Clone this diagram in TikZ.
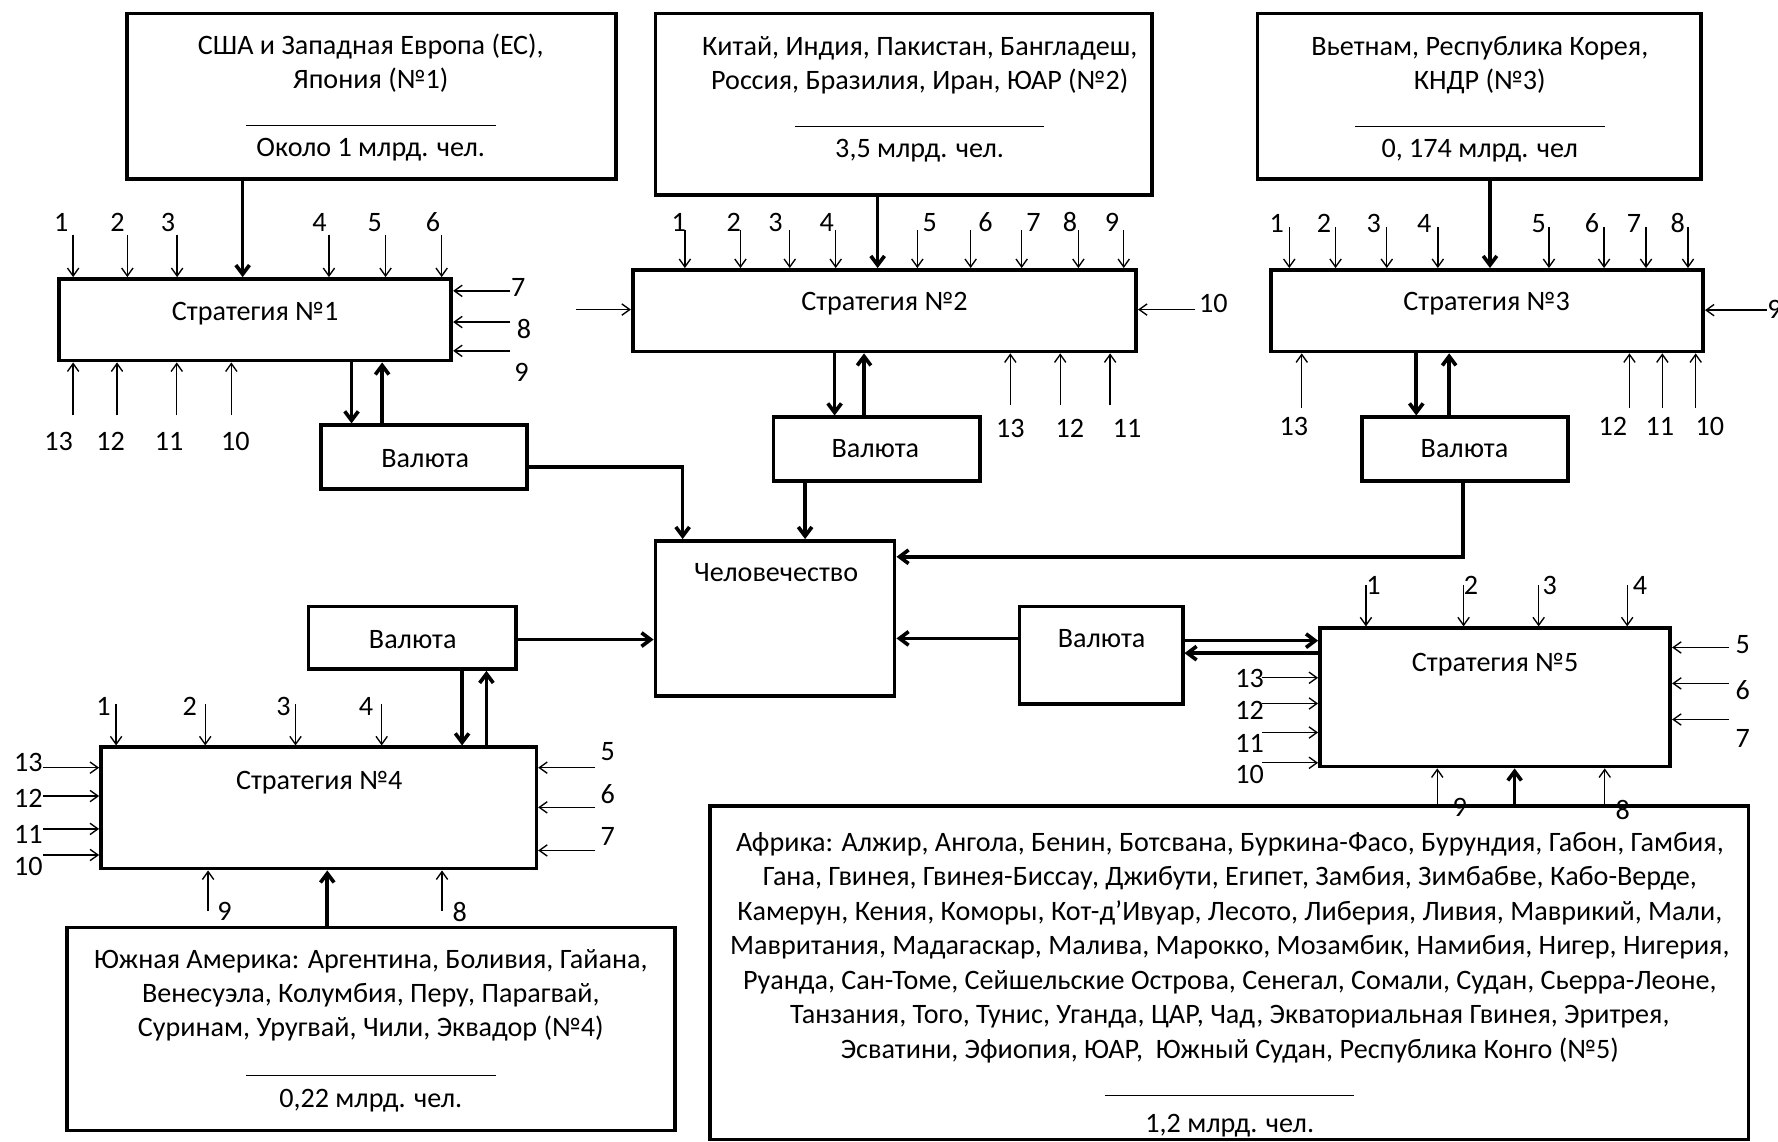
\documentclass[tikz,border=0pt]{standalone}
\usepackage{fontspec}
\setmainfont{Carlito}
\usetikzlibrary{positioning,arrows.meta,fit}

\begin{document}
\begin{tikzpicture}[x=0.5pt,y=-0.5pt,
    box/.style={draw,line width=1.6pt,inner sep=0pt},
    txt/.style={font=\fontsize{12.4}{15}\selectfont,align=center,inner sep=0pt,anchor=base},
    num/.style={font=\fontsize{12.4}{15}\selectfont,inner sep=0pt},
    thk/.style={line width=1.6pt,-{Straight Barb[length=4pt,width=6pt]}},
    inp/.style={line width=0.6pt,-{Straight Barb[length=3.5pt,width=5pt]}}
]
\useasboundingbox (0,0) rectangle (1568,1007);

% regions (text anchored at the baseline of its last line)
\node[box,fit={(112,12) (543,158)}]   (b1) {};
\node[box,fit={(578,12) (1016,172)}]  (b2) {};
\node[box,fit={(1109,12) (1500,158)}] (b3) {};
\node[box,fit={(59,818) (595,997)}]   (b4) {};
\node[box,fit={(626,711) (1542,1005)}] (b5) {};

\node[txt] (t1) at (327,138) {США и Западная Европа (ЕС),\\Япония (№1)\\[1.5pt]\rule{110pt}{0.5pt}\\[-1.5pt]Около 1 млрд. чел.};
\node[txt] (t2) at (811,139) {Китай, Индия, Пакистан, Бангладеш,\\Россия, Бразилия, Иран, ЮАР (№2)\\[1.5pt]\rule{110pt}{0.5pt}\\[-1.5pt]3,5 млрд. чел.};
\node[txt] (t3) at (1305,139) {Вьетнам, Республика Корея,\\КНДР (№3)\\[1.5pt]\rule{110pt}{0.5pt}\\[-1.5pt]0, 174 млрд. чел};
\node[txt] (t4) at (327,977) {Южная Америка: Аргентина, Боливия, Гайана,\\Венесуэла, Колумбия, Перу, Парагвай,\\Суринам, Уругвай, Чили, Эквадор (№4)\\[2.25pt]\rule{110pt}{0.5pt}\\[-1pt]0,22 млрд. чел.};
\node[txt,font=\fontsize{12.4}{15.25}\selectfont] (t5) at (1084.5,998.7) {Африка: Алжир, Ангола, Бенин, Ботсвана, Буркина-Фасо, Бурундия, Габон, Гамбия,\\
  Гана, Гвинея, Гвинея-Биссау, Джибути, Египет, Замбия, Зимбабве, Кабо-Верде,\\
  Камерун, Кения, Коморы, Кот-д’Ивуар, Лесото, Либерия, Ливия, Маврикий, Мали,\\
  Мавритания, Мадагаскар, Малива, Марокко, Мозамбик, Намибия, Нигер, Нигерия,\\
  Руанда, Сан-Томе, Сейшельские Острова, Сенегал, Сомали, Судан, Сьерра-Леоне,\\
  Танзания, Того, Тунис, Уганда, ЦАР, Чад, Экваториальная Гвинея, Эритрея,\\
  Эсватини, Эфиопия, ЮАР,\ \ Южный Судан, Республика Конго (№5)\\[1.35pt]\rule{110pt}{0.5pt}\\[0.75pt]1,2 млрд. чел.};

% strategies
\node[box,fit={(52,246) (398,318)}]    (s1) {};
\node[box,fit={(558,238) (1002,310)}]  (s2) {};
\node[box,fit={(1121,238) (1502,310)}] (s3) {};
\node[box,fit={(89,659) (473,766)}]    (s4) {};
\node[box,fit={(1164,554) (1473,676)}] (s5) {};
\node[txt] (s1t) at (225,283)    {Стратегия №1};
\node[txt] (s2t) at (780,274)    {Стратегия №2};
\node[txt] (s3t) at (1311,274)   {Стратегия №3};
\node[txt] (s4t) at (281.5,696)  {Стратегия №4};
\node[txt] (s5t) at (1318.5,592) {Стратегия №5};

% currency and humanity
\node[box,fit={(283,375) (465,431)}]   (v1) {};
\node[box,fit={(682,368) (864,424)}]   (v2) {};
\node[box,fit={(1201,368) (1383,424)}] (v3) {};
\node[box,fit={(272,535) (455,590)}]   (v4) {};
\node[box,fit={(899,535) (1043,621)}]  (v5) {};
\node[box,fit={(578,477) (789,614)}]   (hum) {};
\node[txt] (v1t) at (375,412)    {Валюта};
\node[txt] (v2t) at (772,403.5)  {Валюта};
\node[txt] (v3t) at (1291.5,403.5) {Валюта};
\node[txt] (v4t) at (364,572)    {Валюта};
\node[txt] (v5t) at (971.5,571)  {Валюта};
\node[txt] (humt) at (684.5,513) {Человечество};

% main flows
\draw[thk] (b1.south -| 214,0) -- (s1.north -| 214,0);
\draw[thk] (b2.south -| 774,0) -- (s2.north -| 774,0);
\draw[thk] (b3.south -| 1314,0) -- (s3.north -| 1314,0);
\draw[thk] (b4.north -| 288.6,0) -- (s4.south -| 288.6,0);
\draw[thk] (b5.north -| 1335.7,0) -- (s5.south -| 1335.7,0);

\draw[thk] (s1.south -| 310,0) -- (v1.north -| 310,0);
\draw[thk] (v1.north -| 337,0) -- (s1.south -| 337,0);
\draw[thk] (s2.south -| 736,0) -- (v2.north -| 736,0);
\draw[thk] (v2.north -| 762,0) -- (s2.south -| 762,0);
\draw[thk] (s3.south -| 1249,0) -- (v3.north -| 1249,0);
\draw[thk] (v3.north -| 1278,0) -- (s3.south -| 1278,0);
\draw[thk] (v4.south -| 407.5,0) -- (s4.north -| 407.5,0);
\draw[thk] (s4.north -| 429,0) -- (v4.south -| 429,0);
\draw[thk] (v5.east |- 0,565) -- (s5.west |- 0,565);
\draw[thk] (s5.west |- 0,576) -- (v5.east |- 0,576);

\draw[thk] (v1.east |- 0,412) -| (hum.north -| 602,0);
\draw[thk] (v2.south -| 710,0) -- (hum.north -| 710,0);
\draw[thk] (v3.south -| 1290,0) |- (hum.east |- 0,491);
\draw[thk] (v4.east |- 0,564) -- (hum.west |- 0,564);
\draw[thk] (v5.west |- 0,563) -- (hum.east |- 0,563);

% factors of strategy 1
\foreach \x/\n/\lx in {64.5/1/54,112.3/2/103.6,156.2/3/148.2,290.1/4/281.7,340/5/330.5,389.5/6/381.8}{
  \node[num] (s1a\n) at (\lx,196) {\n};
  \draw[inp] (\x,207) -- (s1.north -| \x,0);
}
\foreach \y/\n/\lx/\ly in {256.5/7/457/253.5,284/8/462/289.7,309.4/9/460/328.8}{
  \node[num] (s1a\n) at (\lx,\ly) {\n};
  \draw[inp] (450,\y) -- (s1.east |- 0,\y);
}
\foreach \x/\n/\lx in {64.5/13/51.6,103.2/12/97.6,155.9/11/149.2,204/10/207.5}{
  \node[num] (s1a\n) at (\lx,389) {\n};
  \draw[inp] (\x,366) -- (s1.south -| \x,0);
}

% factors of strategy 2
\foreach \x/\n/\lx in {604/1/598.5,653/2/647,696.5/3/684,737/4/729,809/5/820,856/6/869,901/7/911.5,951/8/943.5,991/9/980.6}{
  \node[num] (s2a\n) at (\lx,196) {\n};
  \draw[inp] (\x,203) -- (s2.north -| \x,0);
}
\draw[inp] (508,273) -- (s2.west |- 0,273);
\node[num] (s2a10) at (1070,268) {10};
\draw[inp] (1054,273) -- (s2.east |- 0,273);
\foreach \x/\n/\lx in {891/13/891,935/12/943.5,979/11/994}{
  \node[num] (s2a\n) at (\lx,378) {\n};
  \draw[inp] (\x,357) -- (s2.south -| \x,0);
}

% factors of strategy 3
\foreach \x/\n/\lx in {1137/1/1126,1177.8/2/1167.7,1223/3/1211.5,1268/4/1256,1366/5/1357,1414.6/6/1404,1451.6/7/1441,1488.6/8/1479.6}{
  \node[num] (s3a\n) at (\lx,197) {\n};
  \draw[inp] (\x,200) -- (s3.north -| \x,0);
}
\node[num] (s3a9) at (1565,273) {9};
\draw[inp] (1558,273.5) -- (s3.east |- 0,273.5);
\foreach \x/\n/\lx in {1148/13/1141,1437/12/1422.4,1466/11/1463.7,1495.4/10/1508}{
  \node[num] (s3a\n) at (\lx,376) {\n};
  \draw[inp] (\x,360) -- (s3.south -| \x,0);
}

% factors of strategy 4
\foreach \x/\n/\lx in {102.4/1/91.3,181/2/167.3,260.6/3/250,336.6/4/322.8}{
  \node[num] (s4a\n) at (\lx,623) {\n};
  \draw[inp] (\x,621) -- (s4.north -| \x,0);
}
\foreach \y/\n/\ly in {677/13/672,702/12/704,731/11/736,754/10/764}{
  \node[num] (s4a\n) at (25,\ly) {\n};
  \draw[inp] (38,\y) -- (s4.west |- 0,\y);
}
\foreach \y/\n/\ly in {677/5/663,712/6/700,750/7/738}{
  \node[num] (s4a\n) at (536,\ly) {\n};
  \draw[inp] (525,\y) -- (s4.east |- 0,\y);
}
\foreach \x/\n/\lx in {183.5/9/198,389.8/8/405.5}{
  \node[num] (s4a\n) at (\lx,804) {\n};
  \draw[inp] (\x,803) -- (s4.south -| \x,0);
}

% factors of strategy 5
\foreach \x/\n/\lx in {1204.6/1/1211.2,1290.7/2/1297.3,1356.9/3/1366.8,1435/4/1446.3}{
  \node[num] (s5a\n) at (\lx,516) {\n};
  \draw[inp] (\x,516) -- (s5.north -| \x,0);
}
\foreach \y/\n/\ly in {571/5/568,602.7/6/609,634.5/7/651}{
  \node[num] (s5a\n) at (1537,\ly) {\n};
  \draw[inp] (1525,\y) -- (s5.east |- 0,\y);
}
\foreach \y/\n/\ly in {597.7/13/598.3,620.4/12/626.3,646/11/655.7,672.7/10/682.7}{
  \node[num] (s5a\n) at (1102,\ly) {\n};
  \draw[inp] (1113,\y) -- (s5.west |- 0,\y);
}
\foreach \x/\n/\lx/\ly in {1267.5/9/1287.4/711.6,1415.2/8/1431/714.5}{
  \node[num] (s5a\n) at (\lx,\ly) {\n};
  \draw[inp] (\x,711) -- (s5.south -| \x,0);
}
\end{tikzpicture}
\end{document}
